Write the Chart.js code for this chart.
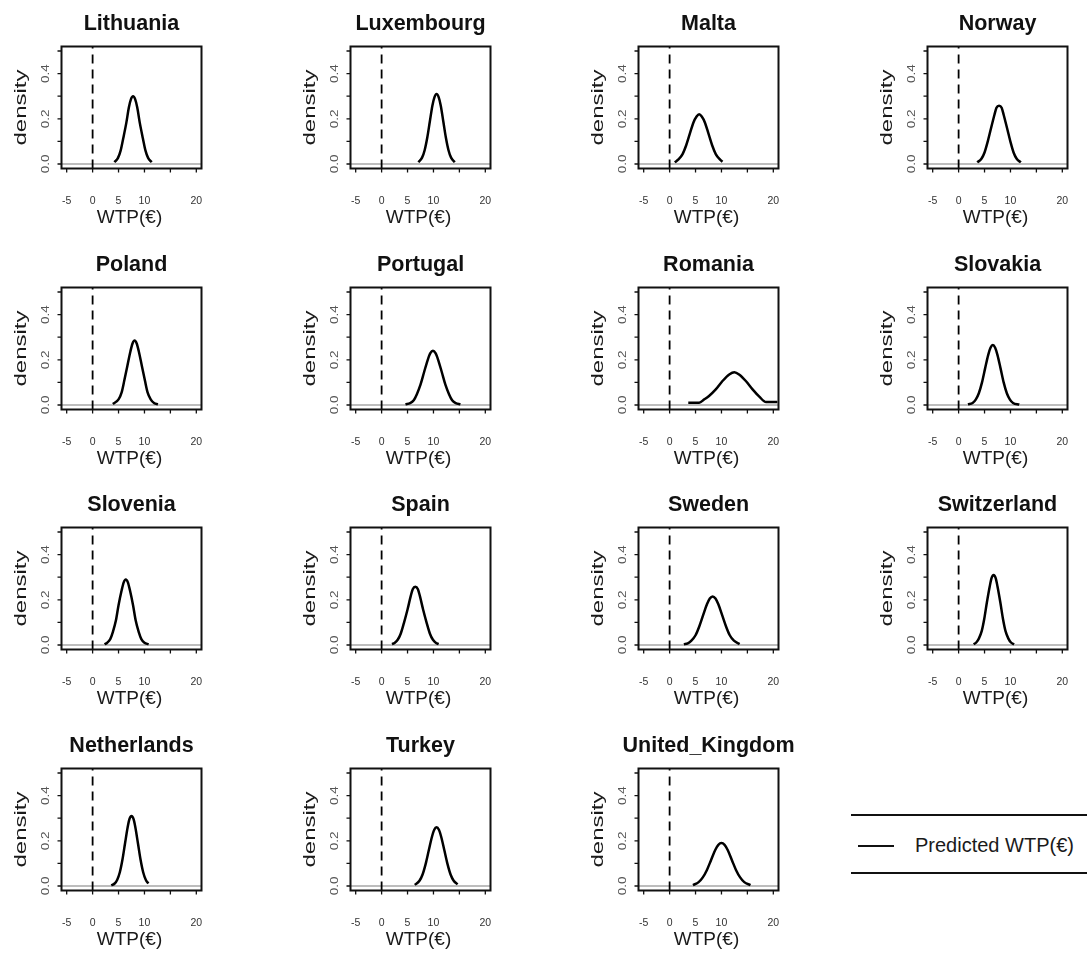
<!DOCTYPE html>
<html>
<head>
<meta charset="utf-8">
<script src="https://cdn.jsdelivr.net/npm/chart.js@4/dist/chart.umd.min.js"></script>
<style>
  html, body { margin:0; padding:0; background:#fff; }
  body { width:1087px; height:956px; overflow:hidden; position:relative; font-family:"Liberation Sans", Arial, sans-serif; }
  canvas.panel { position:absolute; }
  #legend { position:absolute; left:851px; top:814px; width:236px; height:56px; border-top:2px solid #111; border-bottom:2px solid #111; }
  #legend .swatch { position:absolute; left:7px; top:29px; width:36px; height:0; border-top:2px solid #111; }
  #legend .lbl { position:absolute; left:64px; top:17px; font-size:20px; line-height:24px; color:#1a1a1a; white-space:nowrap; }
</style>
</head>
<body>
<div id="legend"><div class="swatch"></div><div class="lbl">Predicted WTP(€)</div></div>
<script>
// ---- tick definitions ----
const xTicks = [-5, 0, 5, 10, 15, 20];
const xTickLabels = ['-5', '0', '5', '10', '', '20'];
const yTicks = [0, 0.1, 0.2, 0.3, 0.4, 0.5];
const yTickLabels = ['0.0', '', '0.2', '', '0.4', ''];
const xLabel = 'WTP(€)';
const yLabel = 'density';
const legendLabel = 'Predicted WTP(€)';

// ---- countries in panel order ----
const countries = ['Lithuania', 'Luxembourg', 'Malta', 'Norway',
                   'Poland', 'Portugal', 'Romania', 'Slovakia',
                   'Slovenia', 'Spain', 'Sweden', 'Switzerland',
                   'Netherlands', 'Turkey', 'United_Kingdom'];

// ---- density curves (WTP in €, density) ----
const lithuaniaX = [4.2, 4.9, 5.4, 5.9, 6.5, 7.0, 7.4, 7.8, 8.2, 8.6, 9.1, 9.7, 10.2, 10.7, 11.4];
const lithuaniaY = [0.008, 0.027, 0.059, 0.113, 0.182, 0.251, 0.287, 0.300, 0.287, 0.251, 0.182, 0.113, 0.059, 0.027, 0.008];

const luxembourgX = [7.1, 7.8, 8.3, 8.8, 9.3, 9.8, 10.2, 10.6, 11.0, 11.4, 11.9, 12.4, 12.9, 13.4, 14.1];
const luxembourgY = [0.008, 0.028, 0.061, 0.116, 0.188, 0.259, 0.296, 0.310, 0.296, 0.259, 0.188, 0.116, 0.061, 0.028, 0.008];

const maltaX = [1.0, 1.7, 2.5, 3.2, 3.9, 4.6, 5.2, 5.7, 6.2, 6.8, 7.5, 8.2, 8.9, 9.7, 10.2];
const maltaY = [0.007, 0.020, 0.044, 0.083, 0.134, 0.184, 0.210, 0.220, 0.210, 0.184, 0.134, 0.083, 0.044, 0.020, 0.010];

const norwayX = [3.6, 4.4, 5.0, 5.6, 6.25, 6.9, 7.3, 7.8, 8.3, 8.7, 9.35, 10.0, 10.6, 11.2, 12.0];
const norwayY = [0.007, 0.023, 0.051, 0.098, 0.158, 0.217, 0.249, 0.258, 0.249, 0.217, 0.158, 0.098, 0.051, 0.023, 0.007];

const polandX = [3.9, 5.0, 5.6, 6.1, 6.7, 7.3, 7.7, 8.1, 8.5, 8.9, 9.5, 10.1, 10.6, 11.2, 11.9, 12.6];
const polandY = [0.004, 0.025, 0.056, 0.107, 0.173, 0.238, 0.272, 0.285, 0.272, 0.238, 0.173, 0.107, 0.056, 0.025, 0.008, 0.003];

const portugalX = [4.6, 5.5, 6.2, 6.8, 7.5, 8.2, 8.9, 9.4, 9.9, 10.4, 10.9, 11.6, 12.3, 13.0, 13.6, 14.3, 15.2];
const portugalY = [0.003, 0.008, 0.021, 0.048, 0.090, 0.146, 0.200, 0.229, 0.240, 0.229, 0.200, 0.146, 0.090, 0.048, 0.021, 0.008, 0.003];

const romaniaX = [3.6, 5.7, 6.7, 7.6, 8.9, 10.2, 11.5, 12.5, 13.4, 14.7, 16.0, 17.3, 18.6, 20.8];
const romaniaY = [0.010, 0.010, 0.025, 0.040, 0.069, 0.106, 0.135, 0.145, 0.135, 0.106, 0.069, 0.037, 0.013, 0.013];

const slovakiaX = [1.8, 2.7, 3.3, 3.9, 4.5, 5.1, 5.7, 6.15, 6.6, 7.05, 7.5, 8.1, 8.7, 9.3, 9.9, 10.5, 11.7];
const slovakiaY = [0.003, 0.009, 0.024, 0.052, 0.099, 0.161, 0.221, 0.253, 0.265, 0.253, 0.221, 0.161, 0.099, 0.052, 0.024, 0.009, 0.002];

const sloveniaX = [2.3, 2.8, 3.4, 3.9, 4.5, 5.0, 5.6, 6.0, 6.4, 6.8, 7.2, 7.8, 8.3, 8.9, 9.4, 10.0, 10.8];
const sloveniaY = [0.003, 0.010, 0.026, 0.057, 0.109, 0.176, 0.242, 0.277, 0.290, 0.277, 0.242, 0.176, 0.109, 0.057, 0.026, 0.010, 0.003];

const spainX = [2.0, 2.5, 3.1, 3.7, 4.3, 5.0, 5.6, 6.0, 6.5, 7.0, 7.4, 8.0, 8.7, 9.3, 9.9, 10.5, 11.0];
const spainY = [0.004, 0.009, 0.023, 0.051, 0.097, 0.157, 0.215, 0.247, 0.258, 0.247, 0.215, 0.157, 0.097, 0.051, 0.023, 0.009, 0.004];

const swedenX = [2.75, 3.5, 4.2, 5.0, 5.7, 6.45, 7.2, 7.75, 8.3, 8.85, 9.4, 10.15, 10.9, 11.6, 12.4, 13.5];
const swedenY = [0.003, 0.007, 0.019, 0.043, 0.081, 0.131, 0.180, 0.206, 0.215, 0.206, 0.180, 0.131, 0.081, 0.043, 0.019, 0.004];

const switzerlandX = [2.9, 3.4, 3.9, 4.45, 4.95, 5.45, 6.0, 6.35, 6.75, 7.15, 7.5, 8.05, 8.55, 9.05, 9.6, 10.1, 10.7];
const switzerlandY = [0.003, 0.011, 0.028, 0.061, 0.116, 0.188, 0.259, 0.296, 0.310, 0.296, 0.259, 0.188, 0.116, 0.061, 0.028, 0.011, 0.003];

const netherlandsX = [3.6, 4.25, 4.75, 5.25, 5.75, 6.25, 6.75, 7.1, 7.5, 7.9, 8.25, 8.75, 9.25, 9.75, 10.25, 10.75];
const netherlandsY = [0.003, 0.011, 0.028, 0.061, 0.116, 0.188, 0.259, 0.296, 0.310, 0.296, 0.259, 0.188, 0.116, 0.061, 0.028, 0.011];

const turkeyX = [6.4, 7.3, 7.9, 8.5, 9.1, 9.7, 10.15, 10.6, 11.05, 11.5, 12.1, 12.7, 13.3, 13.9, 14.65];
const turkeyY = [0.005, 0.023, 0.051, 0.098, 0.158, 0.217, 0.249, 0.260, 0.249, 0.217, 0.158, 0.098, 0.051, 0.023, 0.007];

const ukX = [4.5, 5.6, 6.4, 7.2, 8.0, 8.8, 9.4, 10.0, 10.6, 11.2, 12.0, 12.8, 13.6, 14.4, 15.6];
const ukY = [0.004, 0.017, 0.038, 0.071, 0.115, 0.159, 0.182, 0.190, 0.182, 0.159, 0.115, 0.071, 0.038, 0.017, 0.004];

const curveX = [lithuaniaX, luxembourgX, maltaX, norwayX, polandX, portugalX, romaniaX, slovakiaX,
                sloveniaX, spainX, swedenX, switzerlandX, netherlandsX, turkeyX, ukX];
const curveY = [lithuaniaY, luxembourgY, maltaY, norwayY, polandY, portugalY, romaniaY, slovakiaY,
                sloveniaY, spainY, swedenY, switzerlandY, netherlandsY, turkeyY, ukY];

// ---- axis limits and reference lines ----
const xMin = -6, xMax = 21;
const yMin = -0.02, yMax = 0.52;
const refX = 0;   // dashed vertical line
const refY = 0;   // grey horizontal line

// ---- layout ----
const colStep = 288.5, rowStep = 240.7;
const canvasW = 288, canvasH = 241;
const boxLeft = 61.5, boxTop = 46.5, boxW = 140, boxH = 122;
const FONT = '"Liberation Sans", Arial, sans-serif';

const rPlotPlugin = {
  id: 'rPlot',
  afterDraw(chart, args, opts) {
    const ctx = chart.ctx;
    const ca = chart.chartArea;
    const xs = chart.scales.x, ys = chart.scales.y;
    ctx.save();
    // box
    ctx.strokeStyle = '#111';
    ctx.lineWidth = 2;
    ctx.strokeRect(ca.left, ca.top, ca.right - ca.left, ca.bottom - ca.top);
    // y ticks
    ctx.lineWidth = 1.3;
    ctx.beginPath();
    yTicks.forEach(v => {
      const py = ys.getPixelForValue(v);
      ctx.moveTo(ca.left, py); ctx.lineTo(ca.left - 4, py);
    });
    // x ticks
    xTicks.forEach(v => {
      const px = xs.getPixelForValue(v);
      ctx.moveTo(px, ca.bottom); ctx.lineTo(px, ca.bottom + 4);
    });
    ctx.stroke();
    // y tick labels (rotated, reading upward)
    ctx.fillStyle = '#555';
    ctx.textAlign = 'center';
    ctx.textBaseline = 'middle';
    yTicks.forEach((v, i) => {
      if (!yTickLabels[i]) return;
      const py = ys.getPixelForValue(v);
      ctx.save();
      ctx.translate(ca.left - 15.5, py);
      ctx.rotate(-Math.PI / 2);
      ctx.scale(1.35, 1);
      ctx.font = '10px ' + FONT;
      ctx.fillText(yTickLabels[i], 0, 0);
      ctx.restore();
    });
    // x tick labels
    ctx.font = '10.5px ' + FONT;
    ctx.fillStyle = '#333';
    xTicks.forEach((v, i) => {
      if (!xTickLabels[i]) return;
      ctx.fillText(xTickLabels[i], xs.getPixelForValue(v), ca.bottom + 32.5);
    });
    // axis titles
    ctx.fillStyle = '#1a1a1a';
    ctx.textBaseline = 'alphabetic';
    ctx.font = '19px ' + FONT;
    ctx.fillText(xLabel, (ca.left + ca.right) / 2 - 2, ca.bottom + 54);
    ctx.save();
    ctx.translate(ca.left - 39.5, (ca.top + ca.bottom) / 2);
    ctx.rotate(-Math.PI / 2);
    ctx.scale(1.5, 1);
    ctx.textBaseline = 'middle';
    ctx.font = '16px ' + FONT;
    ctx.fillText(yLabel, 0, 0);
    ctx.restore();
    // title
    ctx.font = 'bold 21.5px ' + FONT;
    ctx.fillStyle = '#111';
    ctx.textBaseline = 'alphabetic';
    ctx.fillText(opts.title, (ca.left + ca.right) / 2, ca.top - 16.5);
    ctx.restore();
  }
};

countries.forEach((name, i) => {
  const col = i % 4, row = Math.floor(i / 4);
  const cv = document.createElement('canvas');
  cv.className = 'panel';
  cv.width = canvasW; cv.height = canvasH;
  cv.style.left = (col * colStep) + 'px';
  cv.style.top = (row * rowStep) + 'px';
  document.body.appendChild(cv);
  const pts = curveX[i].map((x, k) => ({ x: x, y: curveY[i][k] }));
  new Chart(cv, {
    type: 'line',
    data: {
      datasets: [
        { label: legendLabel, data: pts, borderColor: '#000', borderWidth: 2.5, pointRadius: 0,
          cubicInterpolationMode: 'monotone', fill: false },
        { label: 'zero', data: [{ x: refX, y: yMin }, { x: refX, y: yMax }], borderColor: '#000',
          borderWidth: 1.8, borderDash: [9, 6], pointRadius: 0, fill: false },
        { label: 'baseline', data: [{ x: xMin, y: refY }, { x: xMax, y: refY }], borderColor: '#bdbdbd',
          borderWidth: 2, pointRadius: 0, fill: false }
      ]
    },
    options: {
      responsive: false,
      animation: false,
      devicePixelRatio: 1,
      events: [],
      layout: { autoPadding: false, padding: { left: boxLeft, top: boxTop, right: canvasW - boxLeft - boxW, bottom: canvasH - boxTop - boxH } },
      plugins: { legend: { display: false }, tooltip: { enabled: false }, title: { display: false }, rPlot: { title: name } },
      scales: {
        x: { type: 'linear', min: xMin, max: xMax, display: false },
        y: { type: 'linear', min: yMin, max: yMax, display: false }
      }
    },
    plugins: [rPlotPlugin]
  });
});
</script>
</body>
</html>
